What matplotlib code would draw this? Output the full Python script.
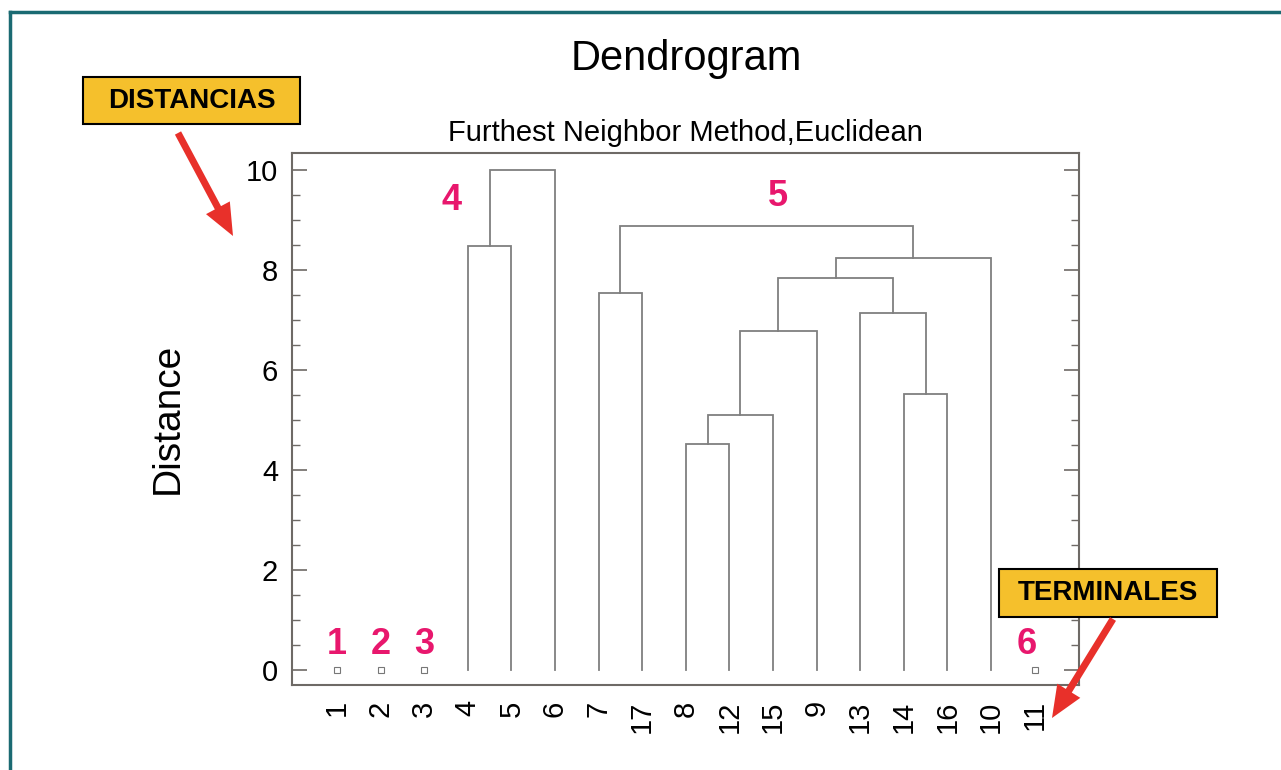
import matplotlib
matplotlib.use("Agg")
import matplotlib.pyplot as plt
from matplotlib.lines import Line2D
from matplotlib.patches import FancyArrow, Rectangle
from matplotlib.transforms import IdentityTransform

plt.rcParams["font.family"] = ["Liberation Sans", "DejaVu Sans"]

leaves = ["1", "2", "3", "4", "5", "6", "7", "17", "8", "12", "15", "9",
          "13", "14", "16", "10", "11"]
# (left child, right child, distance); "m<k>" refers to merge k
merges = [("4", "5", 8.47), ("m0", "6", 10.0), ("7", "17", 7.55),
          ("8", "12", 4.53), ("m3", "15", 5.10), ("m4", "9", 6.78),
          ("14", "16", 5.52), ("13", "m6", 7.15), ("m5", "m7", 7.85),
          ("m8", "10", 8.25), ("m2", "m9", 8.88)]
singletons = ["1", "2", "3", "11"]
group_names = ["1", "2", "3", "4", "5", "6"]
yticks = [0, 2, 4, 6, 8, 10]

W, H = 1281, 770
PINK = "#e8176d"
EDGE = "#6e6a66"

fig = plt.figure(figsize=(W / 100, H / 100), dpi=100)
ax = fig.add_axes([292 / W, 1 - 685 / H, (1079 - 292) / W, (685 - 153) / H])

node = {lab: (i, 0.0) for i, lab in enumerate(leaves)}
for k, (a, b, h) in enumerate(merges):
    (xa, ha), (xb, hb) = node[a], node[b]
    ax.plot([xa, xa, xb, xb], [ha, h, h, hb], color="#7f7f7f", lw=1.3,
            solid_joinstyle="miter")
    node[f"m{k}"] = ((xa + xb) / 2, h)

sx = [leaves.index(s) for s in singletons]
ax.plot(sx, [0] * len(sx), ls="none", marker="s", ms=4, mfc="none",
        mec="#777777", mew=0.8)

# group numbers: singletons sit over their leaf, 4 and 5 over their branches
for name, s in zip(group_names[:3] + group_names[5:], singletons):
    dx = -0.18 if s == "11" else 0
    ax.text(leaves.index(s) + dx, 0.5, name, color=PINK, fontsize=26,
            fontweight="bold", ha="center", va="center")
ax.text(2.64, 9.38, group_names[3], color=PINK, fontsize=26,
        fontweight="bold", ha="center", va="center")
ax.text(10.11, 9.48, group_names[4], color=PINK, fontsize=26,
        fontweight="bold", ha="center", va="center")

ax.set_xlim(-1.03, 17.02)
ax.set_ylim(-0.3, 10.34)
ax.set_xticks(range(len(leaves)), leaves, rotation=90, fontsize=21)
ax.set_yticks(yticks, [str(t) for t in yticks], fontsize=21)
ax.set_yticks([v / 2 for v in range(0, 21) if v % 4], minor=True)
ax.tick_params(axis="x", length=0, pad=11)
ax.tick_params(axis="y", which="major", direction="in", length=11, width=1.2,
               color=EDGE, right=True, pad=10)
ax.tick_params(axis="y", which="minor", direction="in", length=6, width=1.0,
               color=EDGE, right=True)
for sp in ax.spines.values():
    sp.set_color(EDGE)
    sp.set_linewidth(1.5)
ax.set_ylabel("Distance", fontsize=28)
ax.yaxis.set_label_coords(186 / W, 1 - 418 / H, transform=fig.transFigure)

fig.text(686 / W, 1 - 59 / H, "Dendrogram", fontsize=30, ha="center",
         va="center")
fig.text(685 / W, 1 - 133 / H, "Furthest Neighbor Method,Euclidean",
         fontsize=21, ha="center", va="center")

idt = IdentityTransform()
# outer teal frame
fig.add_artist(Line2D([10, W], [H - 12, H - 12], color="#1a6a72", lw=2.5,
                      transform=idt))
fig.add_artist(Line2D([10, 10], [H - 12, 0], color="#1a6a72", lw=2.5,
                      transform=idt))

def tag(x0, y0, x1, y1, txt):
    fig.add_artist(Rectangle((x0, H - y1), x1 - x0, y1 - y0, fc="#f5c02c",
                             ec="black", lw=1.5, transform=idt))
    fig.text((x0 + x1) / 2 / W, 1 - (y0 + y1) / 2 / H, txt, fontsize=20,
             fontweight="bold", ha="center", va="center")

def arrow(x0, y0, x1, y1):
    fig.add_artist(FancyArrow(x0, H - y0, x1 - x0, -(y1 - y0), width=7,
                              head_width=27, head_length=32,
                              length_includes_head=True, color="#e8302a",
                              lw=0, transform=idt))

tag(83, 77, 300, 124, "DISTANCIAS")
arrow(178, 133, 233, 236)
tag(999, 569, 1217, 617, "TERMINALES")
arrow(1113, 619, 1052, 718)

fig.savefig("out.png", dpi=100)
